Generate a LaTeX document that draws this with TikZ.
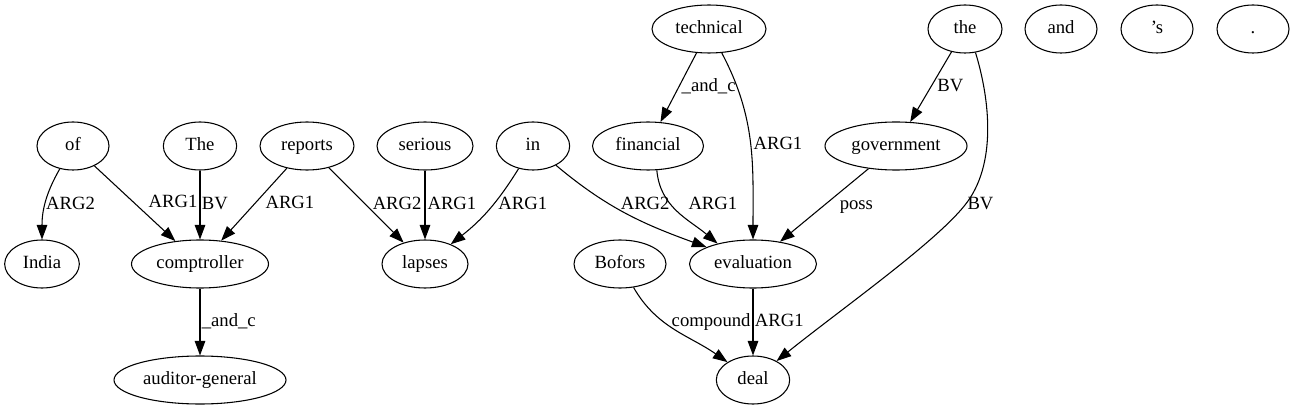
\documentclass[tikz,border=0pt]{standalone}
\usepackage{fontspec}
\setmainfont{Liberation Serif}
\usetikzlibrary{shapes.geometric,arrows.meta}
\tikzset{>={Triangle[length=11pt,width=8pt]}}

\begin{document}
\begin{tikzpicture}[x=0.75pt,y=0.75pt,line width=0.8pt,
  word/.style={draw,ellipse,inner sep=0pt,minimum height=36pt,minimum width=#1,
    font=\fontsize{14}{16}\selectfont,text height=9.5pt,text depth=3pt},
  word/.default=54pt,
  lbl/.style={anchor=west,inner sep=0pt,font=\fontsize{14}{16}\selectfont,
    text height=9.5pt,text depth=3pt}]
\useasboundingbox (0,0) rectangle (1295,411);

% Top row
\node[word=85.5pt] (technical) at (709,382) {technical};
\node[word=55.5pt] (the) at (965,382) {the};
\node[word] (and) at (1061,382) {and};
\node[word] (s) at (1157,382) {’s};
\node[word] (dot) at (1253,382) {.};

% Second row
\node[word] (of) at (73,265) {of};
\node[word=55pt] (The) at (200,265) {The};
\node[word=70.5pt] (reports) at (307,265) {reports};
\node[word=72pt] (serious) at (425,265) {serious};
\node[word=55pt] (in) at (533,265) {in};
\node[word=83.25pt] (financial) at (648,265) {financial};
\node[word=106.5pt] (government) at (896,265) {government};

% Third row
\node[word=56pt] (India) at (42,147) {India};
\node[word=102.75pt] (comptroller) at (200,147) {comptroller};
\node[word=64.5pt] (lapses) at (425,147) {lapses};
\node[word=69pt] (Bofors) at (620,147) {Bofors};
\node[word=95.25pt] (evaluation) at (753,147) {evaluation};

% Bottom row
\node[word=129pt] (auditor) at (200,31) {auditor-general};
\node[word=55pt] (deal) at (753,31) {deal};

% Edges from the top row
\draw[->] (technical) -- node[lbl,xshift=2pt] {\_and\_c} (financial);
\draw[->] (technical) to[out=-62,in=90] node[lbl,xshift=2pt,yshift=-2pt] {ARG1} (evaluation);
\draw[->] (the) -- node[lbl,xshift=4.5pt] {BV} (government);
\draw[->] (the.-66) .. controls (990,311) and (997,246) .. (965,206) node[lbl,xshift=1.5pt] {BV}
  .. controls (935,168) and (840,101) .. (deal);

% Edges from the second row
\draw[->] (of) to[out=-120,in=90] node[lbl,yshift=-2pt] {ARG2} (India);
\draw[->] (of) -- node[lbl,xshift=10pt] {ARG1} (comptroller);
\draw[->] (The) -- node[lbl,xshift=1pt] {BV} (comptroller);
\draw[->] (reports) -- node[lbl,xshift=8.25pt] {ARG1} (comptroller);
\draw[->] (reports) -- node[lbl,xshift=4.5pt] {ARG2} (lapses);
\draw[->] (serious) -- node[lbl,xshift=1.5pt] {ARG1} (lapses);
\draw[->] (in) to[bend left=10] node[lbl,xshift=7pt,yshift=3.5pt] {ARG1} (lapses);
\draw[->] (in) to[out=-40,in=160] node[lbl,xshift=-5pt,yshift=6.4pt] {ARG2} (evaluation);
\draw[->] (financial.-70) to[out=-85,in=140] node[lbl,xshift=7.7pt,yshift=5.25pt] {ARG1} (evaluation.150);
\draw[->] (government) -- node[lbl,xshift=11.25pt] {poss} (evaluation);

% Edges from the third row
\draw[->] (comptroller) -- node[lbl,xshift=1pt] {\_and\_c} (auditor);
\draw[->] (Bofors) to[out=-60,in=145] node[lbl,xshift=-2.8pt,yshift=6pt] {compound} (deal);
\draw[->] (evaluation) -- node[lbl,xshift=1pt] {ARG1} (deal);
\end{tikzpicture}
\end{document}
